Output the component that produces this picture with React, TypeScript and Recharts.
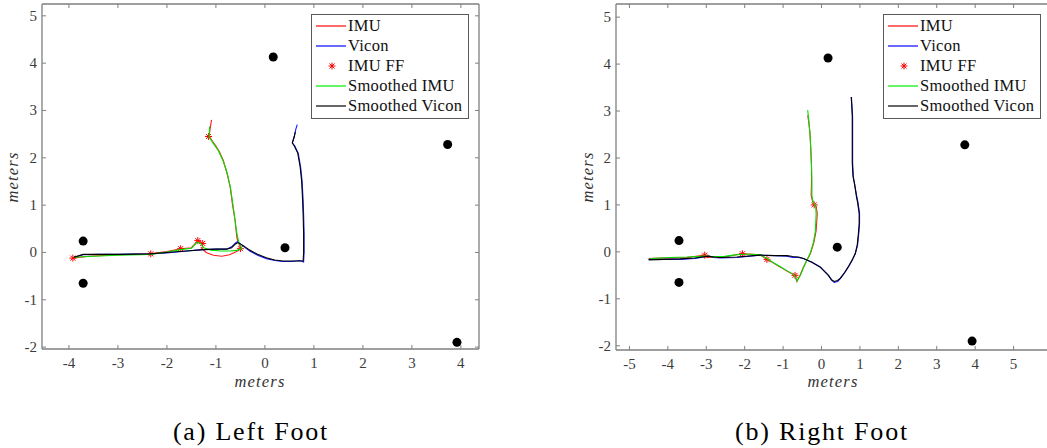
import { ScatterChart, Scatter, XAxis, YAxis, Legend } from "recharts"

type Pt = { x: number; y: number }

const AXIS = "#7f7f7f"
const TICK_TEXT = "#3c3c3c"
const FONT = "'Liberation Serif', 'DejaVu Serif', serif"

const toPts = (rows: number[][]): Pt[] => rows.map(([x, y]) => ({ x, y }))

// beacon positions (same room for both walks)
const beacons = toPts([
    [0.17, 4.13], [3.73, 2.28], [3.92, -1.9], [-3.71, 0.24], [-3.71, -0.65], [0.41, 0.1],
])

// ---- left foot ----
const leftImu = toPts([
    [-3.92, -0.12], [-3.6, -0.08], [-3.0, -0.05], [-2.35, -0.03], [-2.0, 0.02], [-1.72, 0.08],
    [-1.5, 0.1], [-1.37, 0.25], [-1.29, 0.2], [-1.27, 0.12], [-1.3, 0.1], [-1.2, 0.0],
    [-1.05, -0.06], [-0.88, -0.08], [-0.72, -0.05], [-0.58, 0.02], [-0.48, 0.08], [-0.52, 0.15],
    [-0.57, 0.3], [-0.61, 0.68], [-0.66, 1.0], [-0.71, 1.39], [-0.78, 1.7], [-0.85, 1.95],
    [-0.93, 2.13], [-1.0, 2.25], [-1.07, 2.35], [-1.14, 2.46], [-1.12, 2.6], [-1.09, 2.8],
])
const leftVicon = toPts([
    [-3.9, -0.1], [-3.71, -0.05], [-3.4, -0.04], [-3.0, -0.04], [-2.35, -0.03], [-2.0, -0.01],
    [-1.6, 0.03], [-1.26, 0.06], [-1.0, 0.07], [-0.78, 0.07], [-0.68, 0.12], [-0.6, 0.2],
    [-0.56, 0.23], [-0.45, 0.14], [-0.31, 0.03], [-0.15, -0.06], [0.03, -0.13], [0.2, -0.17],
    [0.37, -0.19], [0.55, -0.19], [0.71, -0.17], [0.79, -0.2], [0.8, 0.0], [0.8, 0.4],
    [0.79, 0.8], [0.78, 1.1], [0.76, 1.5], [0.73, 1.8], [0.68, 2.1], [0.61, 2.25],
    [0.56, 2.31], [0.6, 2.45], [0.63, 2.6], [0.66, 2.7],
])
const leftImuFF = toPts([
    [-3.92, -0.12], [-2.33, -0.03], [-1.72, 0.08], [-1.37, 0.25], [-1.27, 0.19], [-0.5, 0.08], [-1.15, 2.45],
])
const leftSmoothImu = toPts([
    [-3.9, -0.1], [-3.5, -0.08], [-3.0, -0.06], [-2.35, -0.04], [-2.0, 0.01], [-1.72, 0.06],
    [-1.5, 0.09], [-1.38, 0.22], [-1.3, 0.18], [-1.25, 0.1], [-1.1, 0.05], [-0.9, 0.03],
    [-0.7, 0.03], [-0.55, 0.05], [-0.47, 0.09], [-0.53, 0.2], [-0.58, 0.45], [-0.63, 0.85],
    [-0.7, 1.35], [-0.77, 1.68], [-0.86, 1.95], [-0.95, 2.15], [-1.05, 2.3], [-1.14, 2.44],
    [-1.13, 2.66],
])
const leftSmoothVicon = toPts([
    [-3.9, -0.1], [-3.71, -0.04], [-3.4, -0.04], [-3.0, -0.04], [-2.35, -0.03], [-2.0, 0.0],
    [-1.6, 0.03], [-1.26, 0.06], [-1.0, 0.07], [-0.78, 0.07], [-0.68, 0.1], [-0.6, 0.18],
    [-0.55, 0.21], [-0.45, 0.15], [-0.31, 0.05], [-0.15, -0.04], [0.03, -0.11], [0.2, -0.16],
    [0.37, -0.18], [0.55, -0.18], [0.71, -0.18], [0.78, -0.18], [0.79, 0.0], [0.79, 0.4],
    [0.78, 0.8], [0.77, 1.1], [0.75, 1.5], [0.72, 1.8], [0.67, 2.1], [0.6, 2.25],
    [0.56, 2.32], [0.6, 2.45], [0.62, 2.55],
])

// ---- right foot ----
const rightImu = toPts([
    [-4.5, -0.14], [-4.2, -0.13], [-3.94, -0.13], [-3.5, -0.12], [-3.04, -0.07], [-2.98, -0.12],
    [-2.55, -0.11], [-2.3, -0.07], [-2.06, -0.04], [-1.8, -0.05], [-1.6, -0.06], [-1.42, -0.16],
    [-1.25, -0.24], [-1.08, -0.32], [-0.88, -0.42], [-0.69, -0.5], [-0.64, -0.63], [-0.55, -0.48],
    [-0.47, -0.32], [-0.38, -0.18], [-0.29, -0.04], [-0.2, 0.2], [-0.14, 0.45], [-0.11, 0.82],
    [-0.14, 0.97], [-0.19, 1.0], [-0.24, 1.1], [-0.27, 1.2], [-0.26, 1.5], [-0.26, 1.81],
    [-0.28, 2.2], [-0.3, 2.52], [-0.33, 2.75], [-0.36, 2.91],
])
const rightVicon = toPts([
    [-4.5, -0.16], [-4.1, -0.16], [-3.68, -0.16], [-3.3, -0.14], [-2.94, -0.09], [-2.8, -0.12],
    [-2.64, -0.13], [-2.2, -0.12], [-1.6, -0.07], [-1.2, -0.08], [-0.9, -0.09], [-0.75, -0.12],
    [-0.6, -0.12], [-0.47, -0.14], [-0.25, -0.22], [-0.03, -0.32], [0.18, -0.5], [0.26, -0.6],
    [0.33, -0.65], [0.42, -0.63], [0.49, -0.57], [0.6, -0.45], [0.7, -0.32], [0.8, -0.18],
    [0.88, -0.04], [0.94, 0.15], [0.97, 0.39], [0.99, 0.6], [0.99, 0.82], [0.95, 1.05],
    [0.92, 1.17], [0.86, 1.45], [0.83, 1.6], [0.81, 1.9], [0.81, 2.17], [0.81, 2.5],
    [0.81, 2.88], [0.79, 3.1], [0.77, 3.3],
])
const rightImuFF = toPts([
    [-3.04, -0.07], [-2.06, -0.04], [-1.42, -0.16], [-0.69, -0.5], [-0.19, 1.0],
])
const rightSmoothImu = toPts([
    [-4.46, -0.14], [-4.2, -0.13], [-3.94, -0.12], [-3.5, -0.11], [-3.04, -0.09], [-2.9, -0.1],
    [-2.55, -0.1], [-2.3, -0.07], [-2.06, -0.05], [-1.8, -0.05], [-1.6, -0.06], [-1.42, -0.14],
    [-1.25, -0.23], [-1.08, -0.31], [-0.88, -0.41], [-0.7, -0.5], [-0.64, -0.62], [-0.55, -0.5],
    [-0.47, -0.34], [-0.38, -0.18], [-0.29, -0.02], [-0.21, 0.2], [-0.16, 0.45], [-0.14, 0.8],
    [-0.15, 0.97], [-0.19, 1.01], [-0.23, 1.1], [-0.25, 1.2], [-0.25, 1.5], [-0.26, 1.81],
    [-0.28, 2.2], [-0.3, 2.52], [-0.33, 2.8], [-0.36, 3.02],
])
const rightSmoothVicon = toPts([
    [-4.5, -0.17], [-4.1, -0.16], [-3.68, -0.15], [-3.3, -0.13], [-2.94, -0.09], [-2.8, -0.11],
    [-2.64, -0.12], [-2.2, -0.11], [-1.6, -0.07], [-1.2, -0.08], [-0.9, -0.08], [-0.75, -0.1],
    [-0.6, -0.11], [-0.47, -0.14], [-0.25, -0.22], [-0.03, -0.33], [0.18, -0.5], [0.26, -0.59],
    [0.33, -0.63], [0.42, -0.61], [0.49, -0.56], [0.6, -0.44], [0.7, -0.31], [0.8, -0.17],
    [0.88, -0.03], [0.93, 0.15], [0.96, 0.39], [0.98, 0.6], [0.98, 0.82], [0.94, 1.05],
    [0.91, 1.17], [0.86, 1.45], [0.82, 1.6], [0.8, 1.9], [0.8, 2.17], [0.8, 2.5],
    [0.8, 2.88], [0.79, 3.1], [0.78, 3.3],
])

const leftXTicks = [-4, -3, -2, -1, 0, 1, 2, 3, 4]
const rightXTicks = [-5, -4, -3, -2, -1, 0, 1, 2, 3, 4, 5]
const yTicks = [-2, -1, 0, 1, 2, 3, 4, 5]

const legendNames = ["IMU", "Vicon", "IMU FF", "Smoothed IMU", "Smoothed Vicon"]
const legendColors = ["#ff2a2a", "#2a2aff", "#ff0000", "#00ee00", "#000000"]

const noDot = () => <g />

const Asterisk = (props: any) => {
    const { cx, cy } = props
    const r = 3.5
    const d = 2.5
    return (
        <g stroke="#ff0000" strokeWidth={1}>
            <line x1={cx - r} y1={cy} x2={cx + r} y2={cy} />
            <line x1={cx} y1={cy - r} x2={cx} y2={cy + r} />
            <line x1={cx - d} y1={cy - d} x2={cx + d} y2={cy + d} />
            <line x1={cx - d} y1={cy + d} x2={cx + d} y2={cy - d} />
        </g>
    )
}

const Beacon = (props: any) => <circle cx={props.cx} cy={props.cy} r={4.5} fill="#000" />

// ticks point inward, MATLAB style; labels only on bottom/left
const BottomTick = ({ x, y, payload }: any) => (
    <g>
        <line x1={x} x2={x} y1={y} y2={y - 4} stroke={AXIS} />
        <text x={x} y={y + 19} textAnchor="middle" fill={TICK_TEXT} fontSize={15} fontFamily={FONT}>
            {payload.value}
        </text>
    </g>
)
const TopTick = ({ x, y }: any) => <line x1={x} x2={x} y1={y} y2={y + 4} stroke={AXIS} />
const LeftTick = ({ x, y, payload }: any) => (
    <g>
        <line x1={x} x2={x + 4} y1={y} y2={y} stroke={AXIS} />
        <text x={x - 5} y={y + 5} textAnchor="end" fill={TICK_TEXT} fontSize={15} fontFamily={FONT}>
            {payload.value}
        </text>
    </g>
)
const RightTick = ({ x, y }: any) => <line x1={x} x2={x - 4} y1={y} y2={y} stroke={AXIS} />

function LegendBox() {
    return (
        <div
            style={{
                border: "1px solid #5a5a5a",
                background: "#fff",
                width: 156,
                padding: "1px 0 2px",
                fontFamily: FONT,
                fontSize: 16.5,
                color: "#111",
            }}
        >
            {legendNames.map((name, i) => (
                <div key={name} style={{ display: "flex", alignItems: "center", height: 20 }}>
                    <svg width={36} height={20} style={{ flex: "none" }}>
                        {i === 2 ? (
                            <Asterisk cx={20} cy={10} />
                        ) : (
                            <line x1={4} x2={34} y1={10} y2={10} stroke={legendColors[i]} strokeWidth={i < 2 ? 2 : 1.2} strokeOpacity={i < 2 ? 0.7 : 1} />
                        )}
                    </svg>
                    <span style={{ whiteSpace: "nowrap", letterSpacing: 0.3 }}>{name}</span>
                </div>
            ))}
        </div>
    )
}

type PlotProps = {
    width: number
    height: number
    margin: { top: number; right: number; bottom: number; left: number }
    xDomain: [number, number]
    yDomain: [number, number]
    xTicks: number[]
    imu: Pt[]
    vicon: Pt[]
    imuFF: Pt[]
    smoothImu: Pt[]
    smoothVicon: Pt[]
    legendLeft: number
}

function FootPlot(p: PlotProps) {
    const axisLine = { stroke: AXIS, strokeWidth: 1.3 }
    return (
        <ScatterChart width={p.width} height={p.height} margin={p.margin}>
            <XAxis xAxisId={0} type="number" dataKey="x" domain={p.xDomain} ticks={p.xTicks} allowDataOverflow
                height={1} tickSize={0} tickMargin={0} tickLine={false} axisLine={axisLine} tick={<BottomTick />} interval={0} />
            <XAxis xAxisId="top" orientation="top" type="number" dataKey="x" domain={p.xDomain} ticks={p.xTicks} allowDataOverflow
                height={1} tickSize={0} tickMargin={0} tickLine={false} axisLine={axisLine} tick={<TopTick />} interval={0} />
            <YAxis yAxisId={0} type="number" dataKey="y" domain={p.yDomain} ticks={yTicks} allowDataOverflow
                width={1} tickSize={0} tickMargin={0} tickLine={false} axisLine={axisLine} tick={<LeftTick />} interval={0} />
            <YAxis yAxisId="right" orientation="right" type="number" dataKey="y" domain={p.yDomain} ticks={yTicks} allowDataOverflow
                width={1} tickSize={0} tickMargin={0} tickLine={false} axisLine={axisLine} tick={<RightTick />} interval={0} />

            <Scatter name="IMU" data={p.imu} line={{ stroke: "#ff1a1a", strokeWidth: 1.1 }} shape={noDot} isAnimationActive={false} />
            <Scatter name="Vicon" data={p.vicon} line={{ stroke: "#1a1aff", strokeWidth: 1.1 }} shape={noDot} isAnimationActive={false} />
            <Scatter name="IMU FF" data={p.imuFF} shape={<Asterisk />} isAnimationActive={false} />
            <Scatter name="Smoothed IMU" data={p.smoothImu} line={{ stroke: "#00e000", strokeWidth: 1.1 }} shape={noDot} isAnimationActive={false} />
            <Scatter name="Smoothed Vicon" data={p.smoothVicon} line={{ stroke: "#000", strokeWidth: 1.1 }} shape={noDot} isAnimationActive={false} />
            <Scatter name="beacons" data={beacons} shape={<Beacon />} isAnimationActive={false} legendType="none" />

            <Legend layout="vertical" align="center" verticalAlign="middle" content={() => <LegendBox />}
                wrapperStyle={{ top: 14, left: p.legendLeft, width: 158, height: 104 }} />
        </ScatterChart>
    )
}

const axisLabel: React.CSSProperties = {
    position: "absolute",
    fontFamily: FONT,
    fontStyle: "italic",
    fontSize: 16.5,
    letterSpacing: 1.2,
    color: "#333",
    lineHeight: "16px",
    whiteSpace: "nowrap",
}

const caption: React.CSSProperties = {
    position: "absolute",
    fontFamily: FONT,
    fontSize: 26,
    letterSpacing: 1.8,
    color: "#000",
    lineHeight: "28px",
    whiteSpace: "nowrap",
    transform: "translateX(-50%)",
}

export default function App() {
    return (
        <div style={{ position: "absolute", left: 0, top: 0, width: 1047, height: 448, overflow: "hidden", background: "#fff" }}>
            <div style={{ position: "absolute", left: 0, top: 0 }}>
                <FootPlot width={520} height={400} margin={{ top: 3, right: 40, bottom: 50, left: 41 }}
                    xDomain={[-4.55, 4.37]} yDomain={[-2.04, 5.25]} xTicks={leftXTicks}
                    imu={leftImu} vicon={leftVicon} imuFF={leftImuFF} smoothImu={leftSmoothImu} smoothVicon={leftSmoothVicon}
                    legendLeft={311} />
            </div>
            <div style={{ position: "absolute", left: 520, top: 0 }}>
                <FootPlot width={540} height={400} margin={{ top: 3, right: 7, bottom: 49, left: 95 }}
                    xDomain={[-5.35, 6.0]} yDomain={[-2.09, 5.28]} xTicks={rightXTicks}
                    imu={rightImu} vicon={rightVicon} imuFF={rightImuFF} smoothImu={rightSmoothImu} smoothVicon={rightSmoothVicon}
                    legendLeft={363} />
            </div>

            <div style={{ ...axisLabel, left: 260, top: 374, transform: "translateX(-50%)" }}>meters</div>
            <div style={{ ...axisLabel, left: 13, top: 177, transform: "translate(-50%, -50%) rotate(-90deg)" }}>meters</div>
            <div style={{ ...axisLabel, left: 833, top: 374, transform: "translateX(-50%)" }}>meters</div>
            <div style={{ ...axisLabel, left: 588, top: 177, transform: "translate(-50%, -50%) rotate(-90deg)" }}>meters</div>

            <div style={{ ...caption, left: 251, top: 418 }}>(a) Left Foot</div>
            <div style={{ ...caption, left: 822, top: 418 }}>(b) Right Foot</div>
        </div>
    )
}
